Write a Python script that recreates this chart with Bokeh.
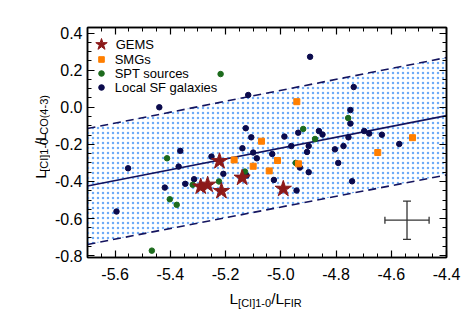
import math
from bokeh.plotting import figure
from bokeh.layouts import row, column
from bokeh.models import (Range1d, LinearAxis, FixedTicker, Legend, LegendItem,
                          Whisker, TeeHead, ColumnDataSource)
from bokeh.core.properties import value
from bokeh.embed import file_html
from bokeh.resources import INLINE

# ---------------- data ----------------
gems_x = [-5.222, -5.290, -5.265, -5.215, -5.140, -4.991]
gems_y = [-0.291, -0.428, -0.418, -0.452, -0.380, -0.440]

smg_x = [-5.070, -5.169, -5.100, -5.042, -4.942, -4.523, -4.649, -5.012, -4.936]
smg_y = [-0.183, -0.284, -0.318, -0.343, 0.030, -0.164, -0.244, -0.287, -0.305]

spt_x = [-5.218, -5.412, -5.224, -5.319, -5.402, -5.377, -5.467, -5.130, -4.919, -4.876, -4.756, -4.946]
spt_y = [0.179, -0.275, -0.400, -0.418, -0.496, -0.526, -0.773, -0.347, -0.117, -0.171, -0.058, -0.300]

local_x = [-5.440, -5.118, -5.127, -5.107, -5.139, -5.100, -5.087, -5.364, -5.251, -5.553, -5.370,
           -5.314, -5.346, -5.420, -5.208, -5.124, -5.595,
           -4.894, -4.736, -4.748, -4.748, -4.862, -4.849, -4.937, -4.987, -4.755, -4.698, -4.680,
           -4.634, -4.962, -4.899, -4.905, -4.804, -4.773, -4.571, -5.031, -4.792, -4.931, -4.899,
           -5.025, -4.742, -4.943]
local_y = [0.000, 0.066, -0.113, -0.162, -0.221, -0.244, -0.275, -0.235, -0.266, -0.329, -0.320,
           -0.388, -0.413, -0.433, -0.359, -0.368, -0.562,
           0.272, 0.109, -0.015, -0.088, -0.128, -0.147, -0.137, -0.158, -0.162, -0.128, -0.142,
           -0.148, -0.209, -0.209, -0.241, -0.227, -0.209, -0.198, -0.252, -0.300, -0.325, -0.350,
           -0.392, -0.399, -0.449]

fit_x = [-5.7, -4.4]
fit_y = [-0.425, -0.045]
upper_y = [-0.115, 0.268]
lower_y = [-0.740, -0.365]

err_x, err_y = [-4.543], [-0.609]
err_dx, err_dy = [0.080], [0.103]

x_ticks = [-5.6, -5.4, -5.2, -5.0, -4.8, -4.6, -4.4]
x_labels = ["-5.6", "-5.4", "-5.2", "-5.0", "-4.8", "-4.6", "-4.4"]
y_ticks = [-0.8, -0.6, -0.4, -0.2, 0.0, 0.2, 0.4]
y_labels = ["-0.8", "-0.6", "-0.4", "-0.2", "0.0", "0.2", "0.4"]

x_title = [("L", False), ("[CI]1-0", True), ("/L", False), ("FIR", True)]
y_title = [("L", False), ("[CI]1-0", True), ("/L", False), ("CO(4-3)", True)]

# ---------------- layout geometry (page pixels) ----------------
FONT = "Liberation Sans"
W, H = 472, 314
YW = 50                      # width of the strip holding the y title
FL, FR, FT, FB = 87, 26, 27, 29   # frame at x 87..446, y 27..257
MAIN_H = FT + 230 + FB       # 286
XH = H - MAIN_H              # 28

p = figure(width=W - YW, height=MAIN_H, output_backend="svg", toolbar_location=None,
           x_range=Range1d(-5.7, -4.39999), y_range=Range1d(-0.81, 0.43))
p.min_border_left = FL - YW
p.min_border_right = FR
p.min_border_top = FT
p.min_border_bottom = FB
p.xgrid.visible = False
p.ygrid.visible = False
p.outline_line_color = "black"
p.outline_line_width = 1.5
p.background_fill_color = "white"
p.border_fill_color = "white"

x_minor = [round(-5.7 + 0.05 * i, 3) for i in range(27)]
y_minor = [round(-0.8 + 0.05 * i, 3) for i in range(25)]


def style_axis(ax, ticks, minor, labels, show):
    ax.ticker = FixedTicker(ticks=ticks, minor_ticks=minor)
    ax.major_tick_in = 7
    ax.major_tick_out = 0
    ax.minor_tick_in = 4
    ax.minor_tick_out = 0
    ax.axis_line_color = "black"
    ax.axis_line_width = 1.5
    ax.major_tick_line_color = "black"
    ax.major_tick_line_width = 1.2
    ax.minor_tick_line_color = "black"
    ax.minor_tick_line_width = 1.0
    if show:
        ax.major_label_overrides = {t: s for t, s in zip(ticks, labels)}
        ax.major_label_text_font = FONT
        ax.major_label_text_font_size = "16px"
        ax.major_label_text_color = "black"
    else:
        ax.major_label_text_color = None
        ax.major_label_text_font_size = "1px"


style_axis(p.xaxis[0], x_ticks, x_minor, x_labels, True)
p.xaxis[0].major_label_standoff = 10
style_axis(p.yaxis[0], y_ticks, y_minor, y_labels, True)
p.yaxis[0].major_label_standoff = 5

top_ax = LinearAxis()
style_axis(top_ax, x_ticks, x_minor, x_labels, False)
p.add_layout(top_ax, "above")
right_ax = LinearAxis()
style_axis(right_ax, y_ticks, y_minor, y_labels, False)
p.add_layout(right_ax, "right")

NAVY = "#14145e"
p.varea(x=fit_x, y1=lower_y, y2=upper_y, fill_alpha=0,
        hatch_pattern="dot", hatch_color="#4a96f5", hatch_scale=5, hatch_weight=0.7, hatch_alpha=0.8)
p.line(fit_x, upper_y, line_color=NAVY, line_width=1.6, line_dash="8 5")
p.line(fit_x, lower_y, line_color=NAVY, line_width=1.6, line_dash="8 5")
p.line(fit_x, fit_y, line_color=NAVY, line_width=1.6)

r_local = p.scatter(local_x, local_y, marker="circle", size=5.5, fill_color="#0b0b4d", line_color="#0b0b4d")
r_spt = p.scatter(spt_x, spt_y, marker="circle", size=5.5, fill_color="#1d6b1d", line_color="#1d6b1d")
r_smg = p.scatter(smg_x, smg_y, marker="square", size=6, fill_color="#ff7f00", line_color="#ff7f00")
r_gems = p.scatter(gems_x, gems_y, marker="star", size=17, fill_color="#8c1a1a", line_color="#8c1a1a")

esrc = ColumnDataSource(dict(x=err_x, y=err_y,
                             xl=[a - b for a, b in zip(err_x, err_dx)],
                             xu=[a + b for a, b in zip(err_x, err_dx)],
                             yl=[a - b for a, b in zip(err_y, err_dy)],
                             yu=[a + b for a, b in zip(err_y, err_dy)]))
ECOL = "#333333"
p.add_layout(Whisker(base="x", lower="yl", upper="yu", dimension="height", source=esrc,
                     line_color=ECOL, line_width=1.3,
                     upper_head=TeeHead(size=8, line_color=ECOL, line_width=1.3),
                     lower_head=TeeHead(size=8, line_color=ECOL, line_width=1.3)))
p.add_layout(Whisker(base="y", lower="xl", upper="xu", dimension="width", source=esrc,
                     line_color=ECOL, line_width=1.3,
                     upper_head=TeeHead(size=7, line_color=ECOL, line_width=1.3),
                     lower_head=TeeHead(size=7, line_color=ECOL, line_width=1.3)))

FRAME_BOTTOM = FT + 230


def legend_entry(label, renderer, center_x, center_y, gw, gh):
    # one legend per entry; location = bottom-left corner in frame coords (y up)
    row_h = max(gh, 20)
    vx = (center_x - FL) - gw / 2.0
    vy = (FRAME_BOTTOM - center_y) - row_h / 2.0
    lg = Legend(items=[LegendItem(label=label, renderers=[renderer])], location=(vx, vy))
    lg.background_fill_alpha = 0
    lg.border_line_alpha = 0
    lg.margin = 0
    lg.padding = 0
    lg.glyph_width = gw
    lg.glyph_height = gh
    lg.label_height = row_h
    lg.spacing = 0
    lg.label_standoff = int(round(115 - (center_x + gw / 2.0)))
    lg.label_text_font = FONT
    lg.label_text_font_size = "13px"
    lg.label_text_color = "black"
    lg.label_text_baseline = "middle"
    p.add_layout(lg)


legend_entry("GEMS", r_gems, 100.7, 44.0, 30, 30)
legend_entry("SMGs", r_smg, 100.7, 59.0, 14, 20)
legend_entry("SPT sources", r_spt, 100.7, 73.3, 14, 20)
legend_entry("Local SF galaxies", r_local, 100.7, 87.3, 14, 20)

# ---------------- axis titles (strip figures, pixel data ranges) ----------------
CW = {'L': 0.556, '[': 0.278, 'C': 0.722, 'I': 0.278, ']': 0.278, '1': 0.556, '-': 0.333,
      '0': 0.556, '/': 0.278, 'F': 0.611, 'R': 0.722, 'O': 0.778, '(': 0.333, '4': 0.556,
      '3': 0.556, ')': 0.333}
MAIN, SUB = 15.5, 11.0


def tw(s, fs):
    return sum(CW.get(c, 0.556) for c in s) * fs


def strip(w, h):
    f = figure(width=w, height=h, output_backend="svg", toolbar_location=None,
               x_range=Range1d(0, w), y_range=Range1d(0, h),
               x_axis_type=None, y_axis_type=None)
    f.min_border = 0
    f.min_border_left = 0
    f.min_border_right = 0
    f.min_border_top = 0
    f.min_border_bottom = 0
    f.outline_line_color = None
    f.xgrid.visible = False
    f.ygrid.visible = False
    f.background_fill_color = "white"
    f.border_fill_color = "white"
    return f


# x title strip: page y MAIN_H..H ; data y = H - page_y
xf = strip(W, XH)
pos = 229.0
for s, is_sub in x_title:
    fs = SUB if is_sub else MAIN
    base = 298 + (4.5 if is_sub else 0)
    xf.text(x=[pos], y=[H - base], text=[s], text_font=value(FONT), text_font_size=value(f"{fs}px"),
            text_color="black", text_baseline="alphabetic", text_align="left")
    pos += tw(s, fs)

# y title strip: page x 0..YW, y 0..MAIN_H ; data y = MAIN_H - page_y
yf = strip(YW, MAIN_H)
pos = 188.0
for s, is_sub in y_title:
    fs = SUB if is_sub else MAIN
    base = 39.5 + (4.0 if is_sub else 0)
    yf.text(x=[base], y=[MAIN_H - pos], text=[s], angle=math.pi / 2,
            text_font=value(FONT), text_font_size=value(f"{fs}px"),
            text_color="black", text_baseline="alphabetic", text_align="left")
    pos -= tw(s, fs)

layout = column(row(yf, p, spacing=0), xf, spacing=0)

open("out.html", "w").write(file_html(layout, INLINE))
